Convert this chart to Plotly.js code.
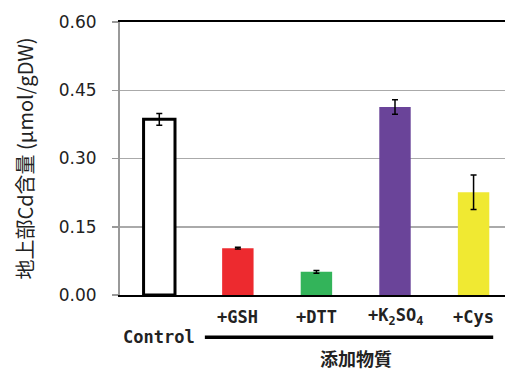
<!DOCTYPE html>
<html><head><meta charset="utf-8">
<script src="https://cdn.plot.ly/plotly-3.0.1.min.js"></script>
<style>html,body{margin:0;padding:0;background:#fff}</style>
</head><body><div id="chart" style="width:505px;height:370px"></div>
<script>
const categories = ["Control", "+GSH", "+DTT", "+K<sub>2</sub>SO<sub>4</sub>", "+Cys"];
const values = [0.386, 0.103, 0.051, 0.413, 0.226];
const errors = [0.013, 0.002, 0.003, 0.016, 0.038];
const colors = ["#ffffff", "#ED2A2F", "#33B45A", "#6A4499", "#F0E932"];
const yTicks = [0, 0.15, 0.30, 0.45, 0.60];
const yTickText = ["0.00", "0.15", "0.30", "0.45", "0.60"];
const yTitle = "地上部Cd含量 (μmol/gDW)";
const groupLabel = "添加物質";

const idx = categories.map((c, i) => i);
const labelFont = {family: "DejaVu Sans Mono, Liberation Mono, monospace", size: 17, color: "#222", weight: 700};

const annotations = categories.map((c, i) => ({
  x: i, xref: "x", y: i === 0 ? -0.155 : -0.08, yref: "paper",
  text: c, showarrow: false, font: labelFont, xanchor: "center", yanchor: "middle"
}));
annotations.push({
  x: 2.5, xref: "x", y: -0.23, yref: "paper", text: groupLabel, showarrow: false,
  font: {family: "Noto Sans CJK JP, sans-serif", size: 18, color: "#222", weight: 700},
  xanchor: "center", yanchor: "middle"
});

const data = [{
  type: "bar",
  x: idx, y: values,
  width: 0.4,
  marker: {color: colors, line: {color: ["#000", "rgba(0,0,0,0)", "rgba(0,0,0,0)", "rgba(0,0,0,0)", "rgba(0,0,0,0)"], width: [3, 0, 0, 0, 0]}},
  error_y: {type: "data", array: errors, visible: true, color: "#000", thickness: 1.5, width: 3},
  hoverinfo: "none"
}];

const layout = {
  width: 505, height: 370,
  margin: {l: 120, r: 0, t: 22, b: 75},
  paper_bgcolor: "#fff", plot_bgcolor: "#fff",
  showlegend: false,
  xaxis: {
    range: [-0.5, 4.4], showticklabels: false, ticks: "", showgrid: false, zeroline: false,
    showline: true, linecolor: "#000", linewidth: 2, mirror: true, fixedrange: true
  },
  yaxis: {
    range: [0, 0.6], tickvals: yTicks, ticktext: yTickText,
    showgrid: true, gridcolor: "#aaaaaa", gridwidth: 1.5, zeroline: false,
    showline: true, linecolor: "#999", linewidth: 2,
    ticks: "outside", ticklen: 6, tickcolor: "#999", tickwidth: 1.5,
    ticklabelstandoff: 12,
    tickfont: {family: "DejaVu Sans, Verdana, sans-serif", size: 17, color: "#222"},
    title: {text: yTitle, standoff: 20, font: {family: "Noto Sans CJK JP, sans-serif", size: 20, color: "#222"}},
    fixedrange: true
  },
  shapes: [{
    type: "line", xref: "x", yref: "paper", x0: 0.58, x1: 4.25, y0: -0.155, y1: -0.155,
    line: {color: "#000", width: 3.5}
  }],
  annotations: annotations
};

Plotly.newPlot("chart", data, layout, {displayModeBar: false, staticPlot: true});
</script></body></html>
